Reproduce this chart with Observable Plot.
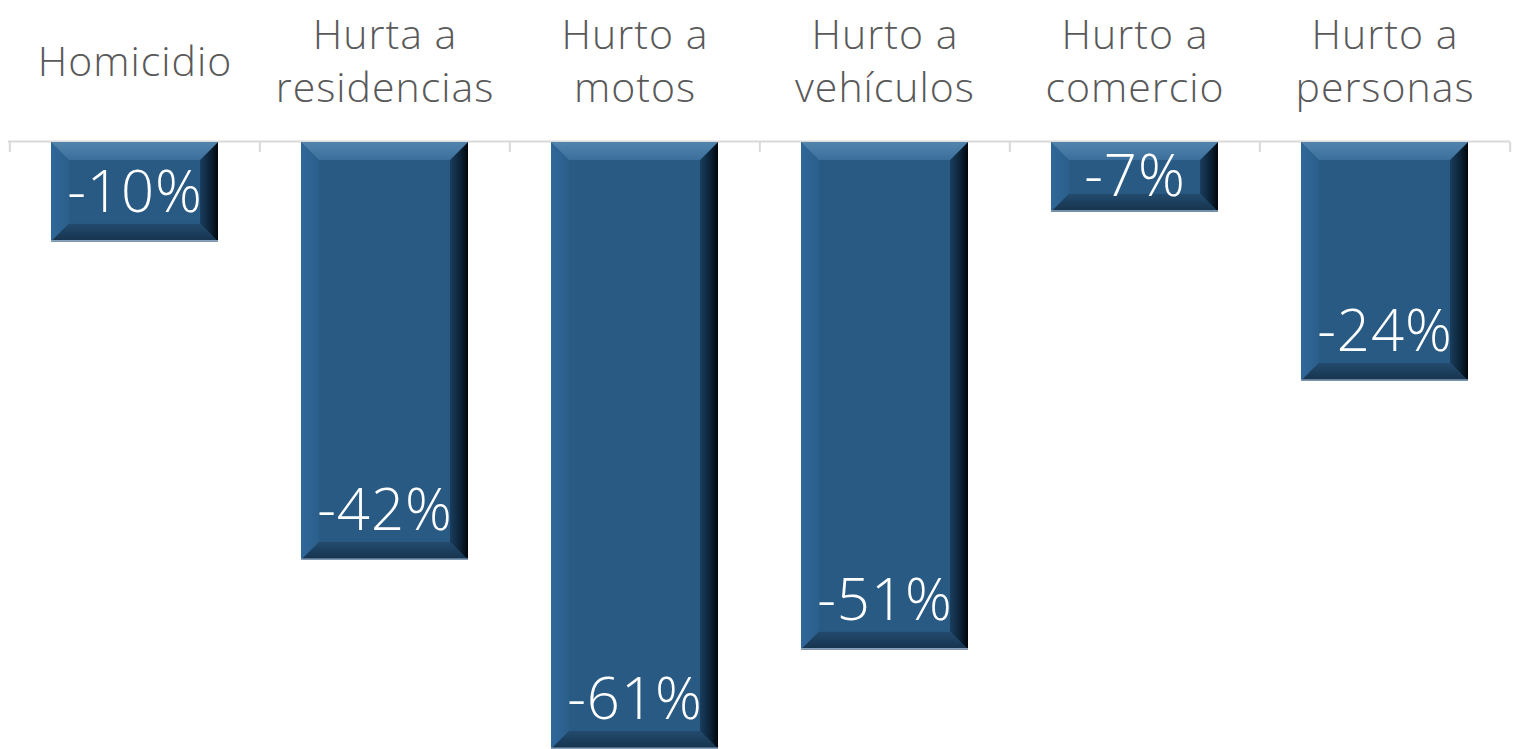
<!DOCTYPE html>
<html><head><meta charset="utf-8">
<script src="https://cdn.jsdelivr.net/npm/d3@7"></script>
<script src="https://cdn.jsdelivr.net/npm/@observablehq/plot@0.6"></script>
<style>body{margin:0;background:#fff;} svg{display:block}</style>
</head><body><div id="chart"></div>
<script>
const categories = ["Homicidio", "Hurta a\nresidencias", "Hurto a\nmotos", "Hurto a\nvehículos", "Hurto a\ncomercio", "Hurto a\npersonas"];
const values = [-10, -42, -61, -51, -7, -24];
const valueLabels = ["-10%", "-42%", "-61%", "-51%", "-7%", "-24%"];

const data = categories.map((c, i) => ({cat: c, v: values[i], label: valueLabels[i]}));

const W = 1525, H = 749, ML = 8, MR = 15, MT = 142;
const step = (W - ML - MR) / categories.length;
const bw = step * (2 / 3);
const bevel = 18;
const axisColor = "#d9d9d9";

const plot = Plot.plot({
  width: W, height: H,
  marginLeft: ML, marginRight: MR, marginTop: MT, marginBottom: 0,
  x: {domain: categories, paddingInner: 1/3, paddingOuter: 1/6, axis: null},
  y: {domain: [-61, 0], axis: null},
  style: {background: "#fff", fontFamily: "'Open Sans', 'Noto Sans', sans-serif"},
  marks: [
    Plot.ruleY([0], {stroke: axisColor, strokeWidth: 2, dy: -1}),
    Plot.ruleX(categories, {x: d => d, y1: d => 0, y2: d => 0, insetBottom: -10, dx: -step / 2, stroke: axisColor, strokeWidth: 2}),
    Plot.ruleX([categories[categories.length - 1]], {x: d => d, y1: d => 0, y2: d => 0, insetBottom: -10, dx: step / 2, stroke: axisColor, strokeWidth: 2}),
    // base bar (0)
    Plot.barY(data, {x: "cat", y1: d => 0, y2: "v", fill: "#285A84"}),
    // left facet (1)
    Plot.barY(data, {x: "cat", y1: d => 0, y2: "v", fill: "url(#gLeft)", insetRight: bw - bevel}),
    // right facet (2)
    Plot.barY(data, {x: "cat", y1: d => 0, y2: "v", fill: "url(#gRight)", insetLeft: bw - bevel}),
    // top facet (3)
    Plot.barY(data, {x: "cat", y1: d => 0, y2: d => 0, insetBottom: -bevel, fill: "url(#gTop)"}),
    // bottom facet (4)
    Plot.barY(data, {x: "cat", y1: "v", y2: "v", insetTop: -bevel, fill: "url(#gBottom)"}),
    // bottom edge line (5)
    Plot.barY(data, {x: "cat", y1: "v", y2: "v", insetTop: -1.5, fill: "#8aa3bb"}),
    // inner face (6)
    Plot.barY(data, {x: "cat", y1: d => 0, y2: "v", fill: "#285A84", inset: bevel}),
    // value labels
    Plot.text(data, {x: "cat", y: d => Math.min(d.v + 4.9, d.v / 2), text: "label", fill: "white", fontSize: 58, fontWeight: 300, lineAnchor: "middle"}),
    // category labels
    Plot.text(categories, {x: d => d, y: d => 0, text: d => d, dy: -84, fontSize: 41, fontWeight: 300, fill: "#595959", lineAnchor: "middle", lineHeight: 1.3})
  ]
});

const svg = d3.select(plot);
svg.insert("defs", ":first-child").html(`
  <linearGradient id="gLeft" x1="0" x2="1" y1="0" y2="0">
    <stop offset="0" stop-color="#30679a"/><stop offset="1" stop-color="#2b5f8b"/>
  </linearGradient>
  <linearGradient id="gRight" x1="0" x2="1" y1="0" y2="0">
    <stop offset="0" stop-color="#1a3e5e"/><stop offset="0.6" stop-color="#0b2134"/><stop offset="1" stop-color="#01060c"/>
  </linearGradient>
  <linearGradient id="gTop" x1="0" x2="0" y1="0" y2="1">
    <stop offset="0" stop-color="#5284ad"/><stop offset="1" stop-color="#3b6f9b"/>
  </linearGradient>
  <linearGradient id="gBottom" x1="0" x2="0" y1="0" y2="1">
    <stop offset="0" stop-color="#234b6e"/><stop offset="1" stop-color="#15324c"/>
  </linearGradient>
`);
svg.selectAll("text").style("letter-spacing", "1px");

const barGroups = svg.selectAll('g[aria-label="bar"]').nodes();
const b = bevel + "px";
const clips = {
  1: `polygon(0 0, 100% ${b}, 100% calc(100% - ${b}), 0 100%)`,
  2: `polygon(0 ${b}, 100% 0, 100% 100%, 0 calc(100% - ${b}))`,
  3: `polygon(0 0, 100% 0, calc(100% - ${b}) 100%, ${b} 100%)`,
  4: `polygon(${b} 0, calc(100% - ${b}) 0, 100% 100%, 0 100%)`
};
for (const k in clips) {
  d3.select(barGroups[k]).selectAll("rect").style("clip-path", clips[k]);
}
d3.select(barGroups[2]).raise; // keep order

document.getElementById("chart").append(plot);
</script>
</body></html>
